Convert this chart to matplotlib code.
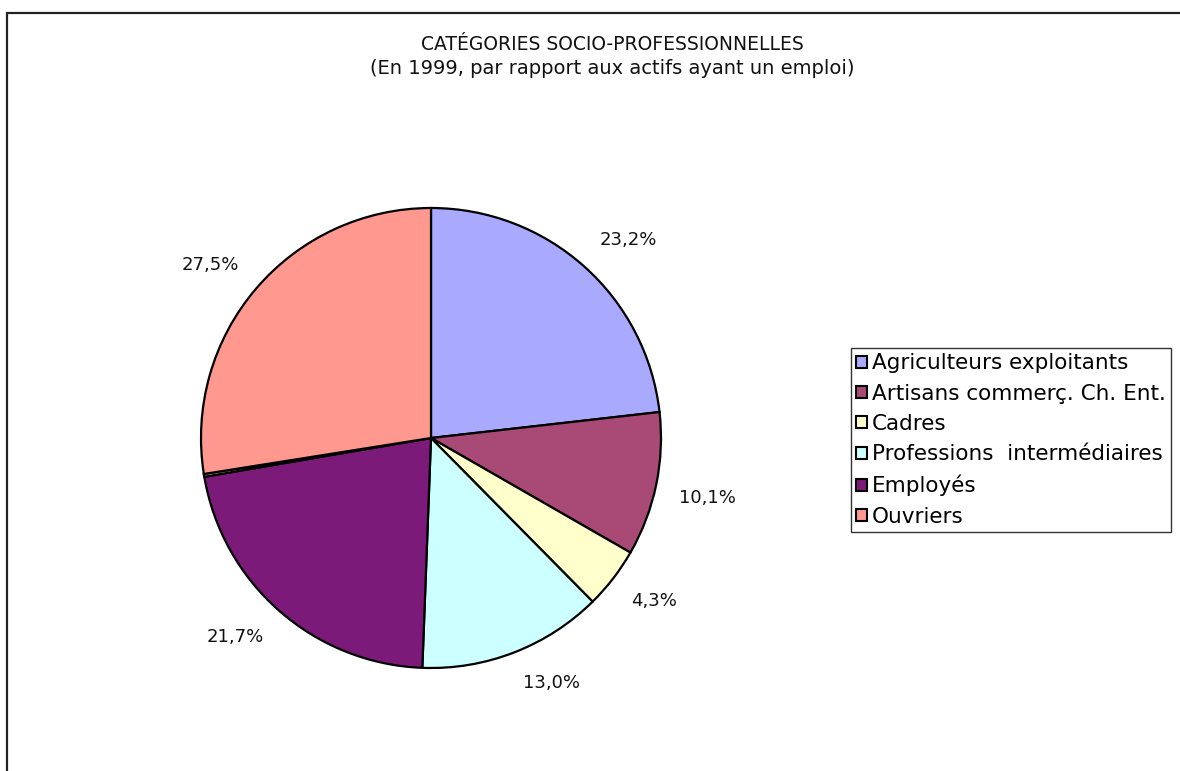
import numpy as np
import matplotlib
matplotlib.use("Agg")
import matplotlib.pyplot as plt
from matplotlib.patches import Rectangle, Patch

categories = [
    "Agriculteurs exploitants",
    "Artisans commerç. Ch. Ent.",
    "Cadres",
    "Professions  intermédiaires",
    "Employés",
    "",
    "Ouvriers",
]
shares = [23.2, 10.1, 4.3, 13.0, 21.7, 0.2, 27.5]
colors = ["#A9AAFE", "#A84A75", "#FFFFCC", "#CCFFFF", "#7B1A78", "#F8A8A0", "#FF9990"]
title_lines = ["CATÉGORIES SOCIO-PROFESSIONNELLES",
               "(En 1999, par rapport aux actifs ayant un emploi)"]

W, H = 1180, 771
fig = plt.figure(figsize=(W / 100, H / 100), dpi=100)
plt.rcParams["font.family"] = ["DejaVu Sans"]

# outer chart frame (extends past the right and bottom edges)
fig.patches.append(Rectangle((7 / W, -0.05), 1.1, 1 - 13 / H + 0.05,
                             transform=fig.transFigure, fill=False,
                             edgecolor="#222222", linewidth=1.6))

cx, cy, r = 431, 438, 230
ax = fig.add_axes([(cx - r) / W, (H - cy - r) / H, 2 * r / W, 2 * r / H])
wedges, _ = ax.pie(shares, colors=colors, startangle=90, counterclock=False,
                   wedgeprops=dict(edgecolor="black", linewidth=1.6),
                   normalize=True)
ax.set_xlim(-1, 1)
ax.set_ylim(-1, 1)
ax.axis("off")

# percentage labels placed just outside each wedge
total = sum(shares)
cum = 0.0
for val in shares:
    mid = cum + val / 2
    cum += val
    if val < 1:
        continue
    theta = np.deg2rad(90 - 360 * mid / total)
    dx, dy = np.cos(theta), np.sin(theta)
    rr = 1.1
    ha = "left" if dx > 0.15 else ("right" if dx < -0.15 else "center")
    va = "bottom" if dy > 0.15 else ("top" if dy < -0.15 else "center")
    ax.text(rr * dx, rr * dy, f"{val:.1f}%".replace(".", ","),
            ha=ha, va=va, fontsize=13, color="#111111", clip_on=False)

fig.text(612 / W, 1 - 45 / H, title_lines[0], ha="center", va="center",
         fontsize=13.5, color="#111111")
fig.text(612 / W, 1 - 68 / H, title_lines[1], ha="center", va="center",
         fontsize=14, color="#111111")

handles = [Patch(facecolor=c, edgecolor="black", linewidth=1.5)
           for c, n in zip(colors, categories) if n]
labels = [n for n in categories if n]
leg = fig.legend(handles, labels, loc="upper left",
                 bbox_to_anchor=(851 / W, 1 - 348 / H),
                 bbox_transform=fig.transFigure, fontsize=15.5,
                 frameon=True, fancybox=False, handlelength=0.48,
                 handleheight=0.48, handletextpad=0.25, labelspacing=0.48,
                 borderpad=0.25, borderaxespad=0)
leg.get_frame().set_edgecolor("black")
leg.get_frame().set_linewidth(1.0)

fig.savefig("out.png", dpi=100, facecolor="white")
